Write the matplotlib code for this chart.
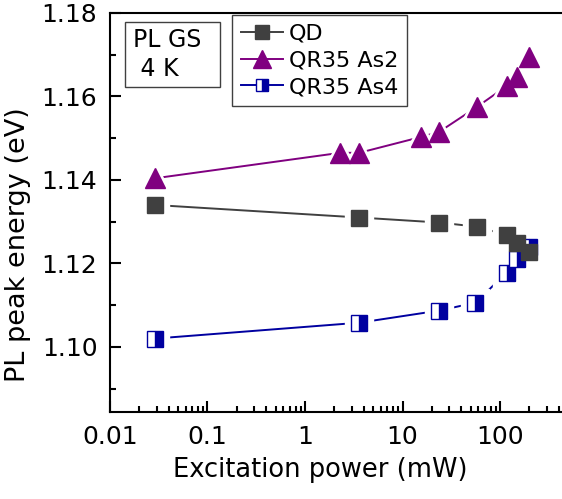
import matplotlib
import numpy as np
from matplotlib import pyplot as plt
from matplotlib.patches import Rectangle
from matplotlib.ticker import LogLocator, MultipleLocator, FixedLocator, FixedFormatter

matplotlib.use('Agg')
plt.rc('font', family='DejaVu Sans')

# excitation power (mW) and PL ground-state peak energy (eV)
power_qd = [0.029, 3.6, 23.7, 58, 117, 150, 200]
energy_qd = [1.1340, 1.1310, 1.1298, 1.1288, 1.1268, 1.1249, 1.1228]

power_as2 = [0.029, 2.3, 3.6, 15.5, 23.7, 58, 117, 150, 200]
energy_as2 = [1.1404, 1.1465, 1.1465, 1.1503, 1.1515, 1.1575, 1.1625, 1.1647, 1.1695]

power_as4 = [0.029, 3.6, 23.7, 56, 117, 150, 200]
energy_as4 = [1.1020, 1.1058, 1.1087, 1.1106, 1.1178, 1.1210, 1.1240]

labels = ['QD', 'QR35 As2', 'QR35 As4']
x_ticks = [0.01, 0.1, 1, 10, 100]
x_ticklabels = ['0.01', '0.1', '1', '10', '100']
y_ticks = [1.10, 1.12, 1.14, 1.16, 1.18]

c_qd = '#404040'
c_as2 = '#800080'
c_as4 = '#0000a0'


def main():
    fig = plt.figure(figsize=(5.62, 4.99), dpi=100)
    ax = fig.add_axes([0.1957, 0.1743, 0.8043, 0.7997])

    series = [
        (power_as4, energy_as4, c_as4, 's', 11, dict(fillstyle='right', markerfacecoloralt='white')),
        (power_as2, energy_as2, c_as2, '^', 14.5, dict()),
        (power_qd, energy_qd, c_qd, 's', 11.5, dict()),
    ]
    handles = {}
    for i, (x, y, c, m, ms, extra) in enumerate(series):
        # connecting line, broken near each point by a white halo
        ax.plot(x, y, color=c, lw=1.4, zorder=1)
        ax.plot(x, y, linestyle='none', marker=m, ms=ms + 9, color='white',
                markeredgecolor='white', zorder=2)
        ax.plot(x, y, linestyle='none', marker=m, ms=ms, color=c,
                markeredgecolor=c, markeredgewidth=1.0, zorder=3 + i, **extra)
        handles[i] = (c, m, ms, extra)

    # legend handles: line through marker
    leg_handles = []
    for i in [2, 1, 0]:
        c, m, ms, extra = handles[i]
        h, = ax.plot([], [], color=c, lw=1.4, marker=m, ms=ms * 0.85,
                     markeredgecolor=c, markeredgewidth=1.0, **extra)
        leg_handles.append(h)
    leg = ax.legend(leg_handles, labels, loc='upper left', bbox_to_anchor=(0.27, 0.995),
                    borderaxespad=0, fontsize=16, handlelength=1.9, handletextpad=0.25,
                    labelspacing=0.3, borderpad=0.4, fancybox=False, framealpha=1,
                    edgecolor='#404040')
    leg.get_frame().set_linewidth(1.0)

    # sample / temperature note in its own frame
    ax.add_patch(Rectangle((0.033, 0.815), 0.21, 0.162, transform=ax.transAxes,
                           fc='white', ec='#404040', lw=1.0, zorder=6))
    ax.text(0.05, 0.962, 'PL GS\n 4 K', transform=ax.transAxes, fontsize=17,
            va='top', ha='left', linespacing=1.25, zorder=7)

    ax.set_xscale('log')
    ax.set_xlim(0.01, 432)
    ax.set_ylim(1.0844, 1.18)
    ax.xaxis.set_major_locator(FixedLocator(x_ticks))
    ax.xaxis.set_major_formatter(FixedFormatter(x_ticklabels))
    ax.xaxis.set_minor_locator(LogLocator(base=10, subs=np.arange(2, 10)))
    ax.yaxis.set_major_locator(FixedLocator(y_ticks))
    ax.set_yticklabels(['%.2f' % v for v in y_ticks])
    ax.yaxis.set_minor_locator(MultipleLocator(0.01))

    ax.tick_params(which='both', direction='in', width=1.5, labelsize=18,
                   top=False, right=False)
    ax.tick_params(which='major', length=8)
    ax.tick_params(which='minor', length=4.5)
    ax.tick_params(axis='x', pad=9)
    ax.tick_params(axis='y', pad=9)
    for s in ['left', 'bottom', 'top']:
        ax.spines[s].set_linewidth(1.5)
    ax.spines['right'].set_visible(False)

    ax.set_xlabel('Excitation power (mW)', fontsize=18.5)
    ax.set_ylabel('PL peak energy (eV)', fontsize=19.5)
    ax.xaxis.set_label_coords(0.465, -0.113)
    ax.yaxis.set_label_coords(-0.175, 0.42)

    plt.savefig('out.png', dpi=100)


if __name__ == '__main__':
    main()
